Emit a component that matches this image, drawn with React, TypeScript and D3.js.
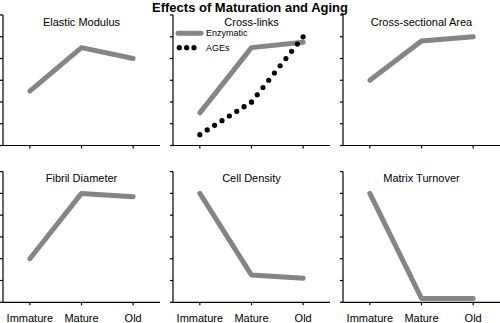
import React from "react";
import * as d3 from "d3";

const categories = ["Immature", "Mature", "Old"];
const yTicks = [0, 1, 2, 3, 4, 5, 6];

const elasticModulus = [2.5, 4.5, 4.0];
const enzymatic = [1.5, 4.5, 4.75];
const ages = [0.5, 2.0, 5.0];
const crossSectionalArea = [3.0, 4.8, 5.0];
const fibrilDiameter = [2.0, 5.0, 4.85];
const cellDensity = [5.0, 1.25, 1.1];
const matrixTurnover = [5.0, 0.18, 0.18];

const mainTitle = "Effects of Maturation and Aging";
const legendLabels = ["Enzymatic", "AGEs"];

type Panel = {
  title: string;
  col: number;
  row: number;
  solid: number[];
  dotted?: number[];
  legend?: boolean;
};

const panels: Panel[] = [
  { title: "Elastic Modulus", col: 0, row: 0, solid: elasticModulus },
  { title: "Cross-links", col: 1, row: 0, solid: enzymatic, dotted: ages, legend: true },
  { title: "Cross-sectional Area", col: 2, row: 0, solid: crossSectionalArea },
  { title: "Fibril Diameter", col: 0, row: 1, solid: fibrilDiameter },
  { title: "Cell Density", col: 1, row: 1, solid: cellDensity },
  { title: "Matrix Turnover", col: 2, row: 1, solid: matrixTurnover },
];

const FONT = "'Liberation Sans', Arial, Helvetica, sans-serif";
const GRAY = "#858585";
const axisXs = [3, 173, 343];
const rowTop = [15, 171.6];
const rowBottom = [145.5, 302.3];
const axisLen = 157;

function DottedSegments({ pts }: { pts: [number, number][] }) {
  const segs = [];
  for (let i = 0; i < pts.length - 1; i++) {
    const [x0, y0] = pts[i];
    const [x1, y1] = pts[i + 1];
    const len = Math.hypot(x1 - x0, y1 - y0);
    const n = Math.max(1, Math.round(len / 9));
    const s = (len / n) * 0.9995;
    segs.push(
      <path
        key={i}
        d={d3.line()([pts[i], pts[i + 1]]) || ""}
        stroke="#000"
        strokeWidth={5.2}
        strokeLinecap="round"
        strokeDasharray={`0 ${s}`}
        fill="none"
      />
    );
  }
  return <g>{segs}</g>;
}

function PanelView({ p }: { p: Panel }) {
  const ax = axisXs[p.col];
  const top = rowTop[p.row];
  const bottom = rowBottom[p.row];
  const x = d3.scalePoint<string>().domain(categories).range([ax, ax + axisLen]).padding(0.52);
  const y = d3.scaleLinear().domain([0, 6]).range([bottom, top]);
  const line = d3
    .line<number>()
    .x((_, i) => x(categories[i]) as number)
    .y((d) => y(d));
  const dottedPts: [number, number][] | null = p.dotted
    ? p.dotted.map((d, i) => [x(categories[i]) as number, y(d)])
    : null;
  const midX = x(categories[1]) as number;
  return (
    <g>
      <line x1={ax} x2={ax} y1={top} y2={bottom} stroke="#000" strokeWidth={1.2} />
      {yTicks.map((t) => (
        <line key={t} x1={ax - 3} x2={ax} y1={y(t)} y2={y(t)} stroke="#000" strokeWidth={1.2} />
      ))}
      <line x1={ax} x2={ax + axisLen} y1={bottom} y2={bottom} stroke="#000" strokeWidth={1.2} />
      {categories.map((c) => (
        <line key={c} x1={x(c)} x2={x(c)} y1={bottom} y2={bottom + 3} stroke="#000" strokeWidth={1.2} />
      ))}
      {p.row === 1 &&
        categories.map((c) => (
          <text key={c} x={x(c)} y={bottom + 19.5} textAnchor="middle" fontSize={11} fontFamily={FONT} fill="#000">
            {c}
          </text>
        ))}
      <text x={midX} y={top + 10.7} textAnchor="middle" fontSize={11} fontFamily={FONT} fill="#000">
        {p.title}
      </text>
      <path d={line(p.solid) || ""} stroke={GRAY} strokeWidth={5} strokeLinecap="round" strokeLinejoin="round" fill="none" />
      {dottedPts && <DottedSegments pts={dottedPts} />}
      {p.legend && (
        <g>
          <line x1={ax + 5} x2={ax + 28} y1={top + 18.3} y2={top + 18.3} stroke={GRAY} strokeWidth={5} strokeLinecap="round" />
          <text x={ax + 33} y={top + 21.4} fontSize={9} fontFamily={FONT} fill="#000">
            {legendLabels[0]}
          </text>
          <path
            d={`M${ax + 6.3},${top + 32.7}H${ax + 21.1}`}
            stroke="#000"
            strokeWidth={5.2}
            strokeLinecap="round"
            strokeDasharray="0 7.35"
            fill="none"
          />
          <text x={ax + 33} y={top + 35.9} fontSize={9} fontFamily={FONT} fill="#000">
            {legendLabels[1]}
          </text>
        </g>
      )}
    </g>
  );
}

export default function App() {
  return (
    <svg
      width={500}
      height={323}
      viewBox="0 0 500 323"
      style={{ position: "fixed", left: 0, top: 0, background: "#fff" }}
    >
      <rect width={500} height={323} fill="#fff" />
      <text x={250} y={11.8} textAnchor="middle" fontSize={13} fontWeight="bold" fontFamily={FONT} fill="#000">
        {mainTitle}
      </text>
      {panels.map((p) => (
        <PanelView key={p.title} p={p} />
      ))}
    </svg>
  );
}
